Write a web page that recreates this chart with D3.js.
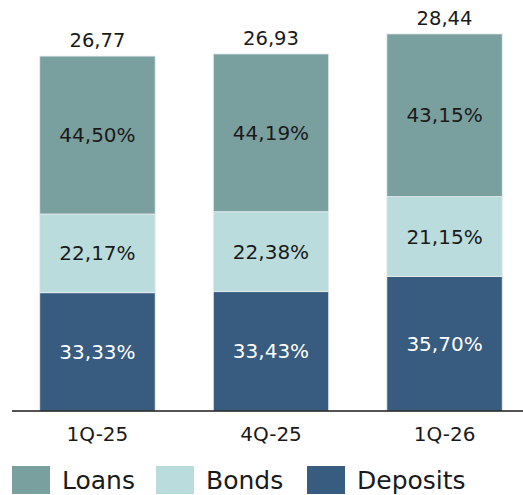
<!DOCTYPE html>
<html>
<head>
<meta charset="utf-8">
<script src="https://cdn.jsdelivr.net/npm/d3@7"></script>
<style>
  body { margin: 0; background: #fff; }
  text { font-family: "DejaVu Sans", sans-serif; }
</style>
</head>
<body>
<div id="chart"></div>
<script>
var width = 523,
	height = 495;

var categories = ["1Q-25", "4Q-25", "1Q-26"];
var totals = [26.77, 26.93, 28.44];
var deposits = [33.33, 33.43, 35.70];
var bonds = [22.17, 22.38, 21.15];
var loans = [44.50, 44.19, 43.15];

var seriesNames = ["Deposits", "Bonds", "Loans"];
var colors = { "Loans": "#7a9f9f", "Bonds": "#badcdd", "Deposits": "#385c7f" };
var labelColors = { "Loans": "#1a1a1a", "Bonds": "#1a1a1a", "Deposits": "#ffffff" };

var rows = categories.map(function(c, i){
	return {
		cat: c,
		total: totals[i],
		Deposits: totals[i] * deposits[i] / 100,
		Bonds: totals[i] * bonds[i] / 100,
		Loans: totals[i] * loans[i] / 100,
		pct: { Deposits: deposits[i], Bonds: bonds[i], Loans: loans[i] }
	};
});

var fmt = function(v){ return v.toFixed(2).replace(".", ","); };

var svg = d3.select("#chart")
	.append("svg")
		.attr("width", width)
		.attr("height", height);

var x = d3.scaleBand()
	.domain(categories)
	.range([12, 530])
	.paddingInner(0.335)
	.paddingOuter(0.16);

var y = d3.scaleLinear()
	.domain([0, 31])
	.range([411, 0]);

var stack = d3.stack().keys(seriesNames);
var layers = stack(rows);

var layer = svg.selectAll(".layer")
	.data(layers)
	.enter()
	.append("g")
		.attr("class", "layer")
		.attr("fill", function(d){ return colors[d.key]; });

layer.selectAll("rect")
	.data(function(d){ return d; })
	.enter()
	.append("rect")
		.attr("x", function(d){ return x(d.data.cat); })
		.attr("width", x.bandwidth())
		.attr("y", function(d){ return y(d[1]); })
		.attr("height", function(d){ return y(d[0]) - y(d[1]); })
		.attr("stroke", "#e8eeee")
		.attr("stroke-width", 0.8);

layers.forEach(function(l){
	svg.selectAll(".lbl-" + l.key)
		.data(l)
		.enter()
		.append("text")
			.attr("x", function(d){ return x(d.data.cat) + x.bandwidth() / 2; })
			.attr("y", function(d){ return (y(d[0]) + y(d[1])) / 2; })
			.attr("dy", "0.35em")
			.attr("text-anchor", "middle")
			.attr("font-size", 20)
			.attr("fill", labelColors[l.key])
			.text(function(d){ return fmt(d.data.pct[l.key]) + "%"; });
});

// totals on top
svg.selectAll(".total")
	.data(rows)
	.enter()
	.append("text")
		.attr("x", function(d){ return x(d.cat) + x.bandwidth() / 2; })
		.attr("y", function(d){ return y(d.total) - 9; })
		.attr("text-anchor", "middle")
		.attr("font-size", 19.5)
		.attr("fill", "#1a1a1a")
		.text(function(d){ return fmt(d.total); });

// axis
var axis = svg.append("g")
	.attr("transform", "translate(0,411)")
	.call(d3.axisBottom(x).tickSize(0).tickPadding(16));
axis.select(".domain")
	.attr("d", "M12,0H523")
	.attr("stroke", "#1a1a1a")
	.attr("stroke-width", 1.5);
axis.selectAll("text")
	.attr("font-size", 20)
	.attr("fill", "#1a1a1a")
	.style("font-family", "DejaVu Sans, sans-serif");

// legend
var legendItems = ["Loans", "Bonds", "Deposits"];
var legendX = [12, 156, 307];
var legend = svg.selectAll(".legend")
	.data(legendItems)
	.enter()
	.append("g")
		.attr("transform", function(d, i){ return "translate(" + legendX[i] + ",466)"; });
legend.append("rect")
	.attr("width", 38)
	.attr("height", 28)
	.attr("fill", function(d){ return colors[d]; });
legend.append("text")
	.attr("x", 50)
	.attr("y", 14)
	.attr("dy", "0.36em")
	.attr("font-size", 25)
	.attr("fill", "#1a1a1a")
	.text(function(d){ return d; });
</script>
</body>
</html>
